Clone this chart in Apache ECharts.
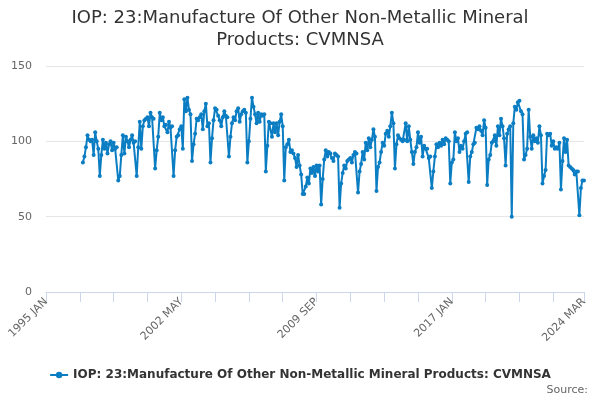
<!DOCTYPE html>
<html>
<head>
<meta charset="utf-8">
<title>IOP: 23 CVMNSA</title>
<script src="https://cdn.jsdelivr.net/npm/echarts@6/dist/echarts.min.js"></script>
<style>
html, body { margin: 0; padding: 0; background: #fff; }
#main { width: 600px; height: 400px; }
</style>
</head>
<body>
<div id="main"></div>
<script>
// month names used for the category labels
var monthNames = ['JAN', 'FEB', 'MAR', 'APR', 'MAY', 'JUN', 'JUL', 'AUG', 'SEP', 'OCT', 'NOV', 'DEC'];
var firstYear = 1995;
var lastYear = 2024;
var lastMonth = 3;      // axis ends 2024 MAR
var dataStart = 24;     // series starts 1997 JAN

// index values, 1997 JAN .. 2024 MAR
var values = [
	86, 90, 96, 104, 101, 100, 101, 91, 106, 100, 95, 77,
	91, 101, 95, 99, 92, 98, 100, 94, 99, 95, 96, 74,
	77, 91, 104, 92, 103, 100, 96, 101, 104, 99, 100, 77,
	96, 113, 95, 110, 114, 115, 116, 110, 119, 116, 115, 82,
	94, 103, 119, 114, 116, 110, 111, 106, 113, 109, 110, 77,
	94, 103, 104, 108, 110, 95, 128, 120, 129, 121, 118, 87,
	98, 105, 115, 114, 116, 118, 108, 120, 125, 110, 112, 86,
	102, 114, 122, 121, 117, 114, 110, 116, 120, 117, 116, 90,
	103, 112, 116, 114, 120, 122, 113, 118, 120, 121, 119, 86,
	100, 115, 129, 123, 118, 112, 119, 113, 118, 117, 118, 80,
	97, 113, 112, 103, 112, 106, 112, 104, 113, 118, 110, 74,
	96, 98, 101, 93, 94, 92, 89, 83, 91, 84, 78, 65,
	65, 70, 76, 72, 82, 79, 83, 77, 84, 80, 84, 58,
	75, 88, 94, 90, 93, 92, 89, 87, 92, 91, 90, 56,
	72, 79, 84, 82, 87, 88, 89, 86, 91, 93, 92, 66,
	80, 85, 93, 88, 99, 94, 102, 96, 101, 108, 103, 67,
	83, 86, 93, 99, 97, 105, 107, 103, 110, 119, 112, 82,
	98, 104, 102, 101, 100, 101, 112, 100, 110, 101, 93, 85,
	93, 96, 106, 99, 103, 90, 97, 95, 95, 89, 90, 69,
	80, 90, 98, 96, 99, 97, 101, 98, 102, 101, 100, 72,
	86, 88, 106, 100, 102, 93, 97, 95, 100, 105, 106, 73,
	90, 93, 98, 99, 109, 108, 110, 107, 104, 114, 109, 71,
	88, 91, 99, 100, 104, 97, 110, 104, 115, 110, 102, 84,
	105, 108, 110, 50, 112, 123, 121, 126, 127, 120, 118, 88,
	91, 95, 121, 103, 95, 104, 100, 102, 99, 110, 104, 72,
	77, 81, 105, 104, 105, 97, 100, 95, 96, 95, 99, 68,
	87, 102, 93, 101, 84, 83, 82, 81, 78, 80, 80, 51,
	69, 74, 74
];

var yTicks = [0, 50, 100, 150];
var seriesName = 'IOP: 23:Manufacture Of Other Non-Metallic Mineral Products: CVMNSA';

// build the month categories
var categories = [];
for (var y = firstYear; y <= lastYear; y++) {
	for (var m = 0; m < 12; m++) {
		if (y == lastYear && m >= lastMonth) break;
		categories.push(y + ' ' + monthNames[m]);
	}
}
var lastIndex = categories.length - 1;

// pad the months before the series starts
var seriesData = [];
for (var k = 0; k < dataStart; k++) seriesData.push(null);
for (var k = 0; k < values.length; k++) seriesData.push(values[k]);

var font = 'DejaVu Sans';
var myChart = echarts.init(document.getElementById('main'));

var option = {
	animation: false,
	title: {
		text: 'IOP: 23:Manufacture Of Other Non-Metallic Mineral\nProducts: CVMNSA',
		left: 'center',
		top: 2,
		textStyle: { fontFamily: font, fontSize: 18, fontWeight: 'normal', color: '#333333', lineHeight: 22 }
	},
	grid: { left: 46, right: 16, top: 66, bottom: 108 },
	legend: {
		data: [seriesName],
		bottom: 14,
		left: 'center',
		itemWidth: 18,
		itemHeight: 8,
		textStyle: { fontFamily: font, fontSize: 12, fontWeight: 'bold', color: '#333333' }
	},
	graphic: [{
		type: 'text',
		right: 12,
		bottom: 4,
		style: { text: 'Source:', fill: '#666666', font: '11px DejaVu Sans' }
	}],
	xAxis: {
		type: 'category',
		data: categories,
		boundaryGap: false,
		axisLine: { lineStyle: { color: '#ccd6eb' } },
		axisTick: {
			length: 10,
			lineStyle: { color: '#ccd6eb' },
			interval: function (i) { return i % 22 === 0 || i === lastIndex; }
		},
		axisLabel: {
			rotate: 45,
			margin: 8,
			color: '#666666',
			fontFamily: font,
			fontSize: 11,
			interval: function (i) { return i % 88 === 0 || i === lastIndex; }
		},
		splitLine: { show: false }
	},
	yAxis: {
		type: 'value',
		min: yTicks[0],
		max: yTicks[yTicks.length - 1],
		interval: 50,
		axisLine: { show: false },
		axisTick: { show: false },
		axisLabel: { color: '#666666', fontFamily: font, fontSize: 11, margin: 14 },
		splitLine: { lineStyle: { color: '#e6e6e6' } }
	},
	series: [{
		name: seriesName,
		type: 'line',
		data: seriesData,
		color: '#0b7dc3',
		symbol: 'circle',
		symbolSize: 4,
		showAllSymbol: true,
		lineStyle: { width: 2 },
		connectNulls: false
	}]
};

myChart.setOption(option);
</script>
</body>
</html>
